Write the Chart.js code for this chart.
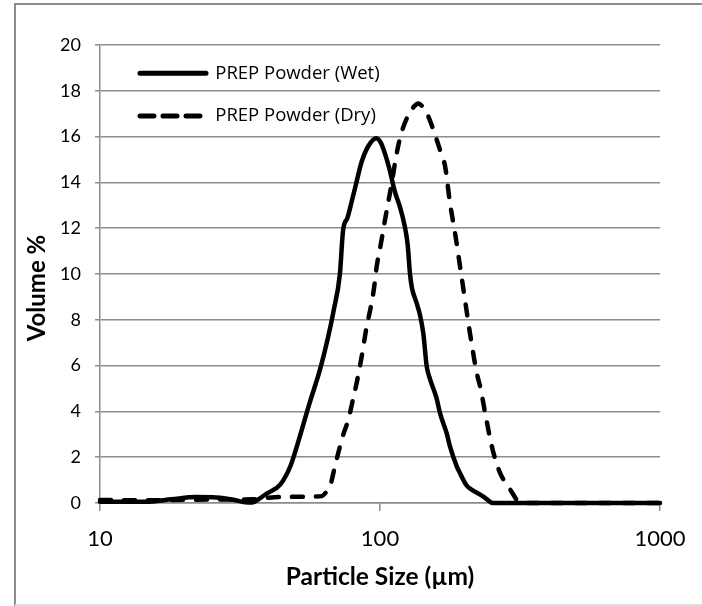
<!DOCTYPE html>
<html>
<head>
<meta charset="utf-8">
<script src="https://cdn.jsdelivr.net/npm/chart.js@4.4.1/dist/chart.umd.min.js"></script>
<style>
html,body{margin:0;padding:0;background:#fff;}
#wrap{position:relative;width:702px;height:606px;}
</style>
</head>
<body>
<div id="wrap"><canvas id="c" width="702" height="606"></canvas></div>
<script>
// ---- data ----
const seriesNames = ['PREP Powder (Wet)', 'PREP Powder (Dry)'];

const wetSize = [10,12,15,18,22,26,30,33,35,37,39.5,44,48,51.7,56,61,65.3,68.3,71.9,73.8,76.5,79,82,86,91,97,101,104.5,108,113,118,122.5,125.5,128,130,135,139,142.8,146.9,151,159,164,173,178,188,194,203,210,222,234,247,252,400,1000];
const wetVolume = [0.05,0.05,0.06,0.16,0.26,0.24,0.14,0.03,0.02,0.18,0.42,0.8,1.65,2.9,4.35,5.81,7.26,8.4,10.0,11.9,12.45,13.1,13.9,14.9,15.6,15.93,15.7,15.2,14.6,13.6,12.9,12.1,11.3,10.0,9.4,8.75,8.2,7.4,5.95,5.4,4.6,3.9,3.05,2.45,1.6,1.25,0.8,0.62,0.45,0.28,0.06,0,0,0];

const drySize = [10,15,20,25,30,35,38,42,50,58,62,64,66.2,69,71.9,74,77,80,82.5,86,89.6,92.5,95,97.3,101,104.2,110.1,114.7,119.6,126.3,132,137,141,146.9,153,159.5,165,170.9,177.8,185.4,193.2,201.2,209.6,221.7,227.9,237.5,251,268.6,287.7,300,308,316,1000];
const dryVolume = [0.13,0.12,0.14,0.15,0.15,0.16,0.2,0.25,0.27,0.28,0.3,0.45,0.7,1.59,2.46,3.0,3.62,4.5,5.23,6.39,7.7,8.5,9.3,10.32,11.4,12.36,13.96,15.27,16.21,16.94,17.3,17.45,17.35,17.02,16.5,15.85,15.3,14.69,13.1,11.78,10.32,8.86,7.41,5.66,5.08,3.92,2.46,1.3,0.71,0.35,0.13,0,0];

const xTickValues = [10, 100, 1000];
const yRange = [0, 20];
const yStep = 2;
const xTitle = 'Particle Size (\u00b5m)';
const yTitle = 'Volume %';

// ---- chart ----
const FONT = "Lato, 'Open Sans', sans-serif";
const LEGEND_FONT = "'Open Sans', Lato, sans-serif";
const GRID = '#8c8c8c';

const toPoints = (xs, ys) => xs.map((x, i) => ({x: x, y: ys[i]}));

const framePlugin = {
  id: 'frame',
  beforeDraw(chart) {
    const ctx = chart.ctx;
    ctx.save();
    ctx.fillStyle = '#ffffff';
    ctx.fillRect(0, 0, chart.width, chart.height);
    ctx.strokeStyle = '#8c8c8c';
    ctx.lineWidth = 2;
    ctx.beginPath();
    ctx.moveTo(15, 606); ctx.lineTo(15, 4); ctx.lineTo(702, 4);
    ctx.stroke();
    ctx.strokeStyle = '#dedede';
    ctx.beginPath();
    ctx.moveTo(15, 605); ctx.lineTo(702, 605);
    ctx.stroke();
    ctx.restore();
  }
};

// y-axis title drawn as text, centred where the reference puts it
const yTitlePlugin = {
  id: 'yTitle',
  afterDraw(chart) {
    const ctx = chart.ctx;
    ctx.save();
    ctx.translate(37, 288);
    ctx.rotate(-Math.PI / 2);
    ctx.fillStyle = '#000';
    ctx.font = "bold 24px " + FONT;
    ctx.textAlign = 'center';
    ctx.textBaseline = 'middle';
    ctx.fillText(yTitle, 0, 0);
    ctx.restore();
  }
};

const legendPlace = {
  id: 'legendPlace',
  afterLayout(chart) {
    const lg = chart.legend;
    if (!lg) return;
    lg.left = 115.8; lg.top = 39.85;
    lg.width = 320; lg.height = 200;
    lg.right = lg.left + lg.width; lg.bottom = lg.top + lg.height;
  }
};

const legendDash = [[], [14, 9]];

new Chart(document.getElementById('c'), {
  type: 'scatter',
  data: {
    datasets: [
      {
        label: seriesNames[0],
        data: toPoints(wetSize, wetVolume),
        showLine: true,
        borderColor: '#000',
        backgroundColor: '#000',
        borderWidth: 4.5,
        borderCapStyle: 'round',
        borderJoinStyle: 'round',
        pointRadius: 0,
        cubicInterpolationMode: 'monotone',
        clip: 8
      },
      {
        label: seriesNames[1],
        data: toPoints(drySize, dryVolume),
        showLine: true,
        borderColor: '#000',
        backgroundColor: '#000',
        borderWidth: 4.5,
        borderDash: [11, 13],
        borderCapStyle: 'round',
        borderJoinStyle: 'round',
        pointRadius: 0,
        cubicInterpolationMode: 'monotone',
        clip: 8
      }
    ]
  },
  options: {
    responsive: false,
    animation: false,
    devicePixelRatio: 1,
    layout: {padding: {left: 0, right: 42, top: 45, bottom: 0}},
    plugins: {
      legend: {
        display: true,
        position: 'chartArea',
        align: 'start',
        labels: {
          usePointStyle: true,
          pointStyle: 'line',
          pointStyleWidth: 66,
          padding: 24.2,
          color: '#000',
          font: {family: LEGEND_FONT, size: 18.5},
          generateLabels: (chart) => chart.data.datasets.map((ds, i) => ({
            text: ds.label,
            fillStyle: 'rgba(0,0,0,0)',
            strokeStyle: '#000',
            fontColor: '#000',
            lineWidth: 5,
            lineDash: legendDash[i],
            lineDashOffset: 0,
            lineCap: 'round',
            lineJoin: 'round',
            pointStyle: 'line',
            rotation: 0,
            hidden: false,
            datasetIndex: i
          }))
        }
      },
      tooltip: {enabled: false}
    },
    scales: {
      x: {
        type: 'logarithmic',
        position: 'bottom',
        min: xTickValues[0],
        max: xTickValues[xTickValues.length - 1],
        afterBuildTicks: (scale) => { scale.ticks = xTickValues.map(v => ({value: v})); },
        afterFit: (scale) => { scale.height = 103; },
        ticks: {
          autoSkip: false,
          maxRotation: 0,
          padding: 15,
          color: '#000',
          font: {family: FONT, size: 22},
          callback: (v) => String(v)
        },
        grid: {drawOnChartArea: false, drawTicks: true, tickLength: 8, color: GRID, lineWidth: 1.5},
        border: {display: true, color: GRID, width: 1.5},
        title: {
          display: true,
          text: xTitle,
          color: '#000',
          font: {family: FONT, size: 24.5, weight: 'bold'},
          padding: {top: 0, bottom: 14}
        }
      },
      y: {
        type: 'linear',
        position: 'left',
        min: yRange[0],
        max: yRange[1],
        afterFit: (scale) => { scale.width = 100; },
        ticks: {
          stepSize: yStep,
          padding: 14,
          color: '#000',
          font: {family: FONT, size: 18}
        },
        grid: {drawTicks: true, tickLength: 5, color: GRID, lineWidth: 1.5},
        border: {display: true, color: GRID, width: 1.5},
        title: {display: false}
      }
    }
  },
  plugins: [framePlugin, legendPlace, yTitlePlugin]
});
</script>
</body>
</html>
